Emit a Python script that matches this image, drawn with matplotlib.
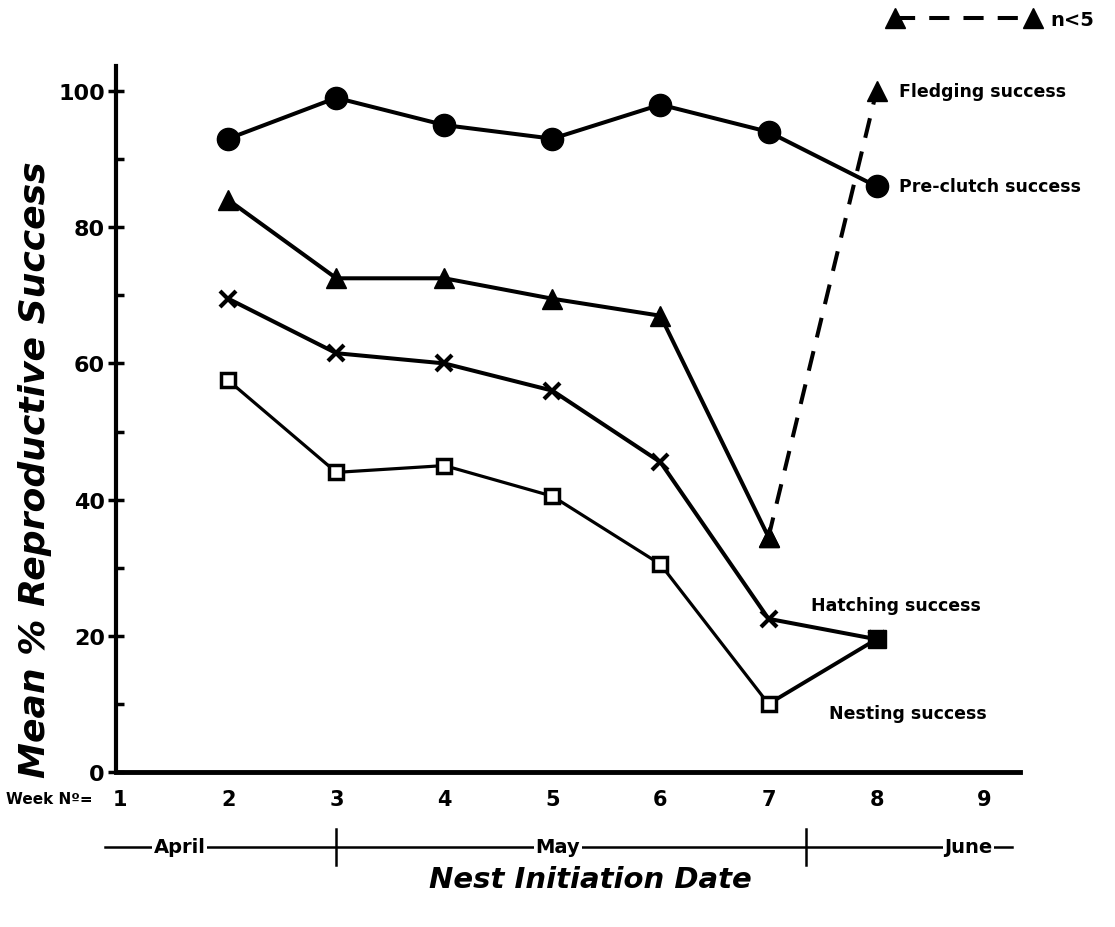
import numpy as np
import matplotlib
matplotlib.use('Agg')
from matplotlib import pyplot as plt
from matplotlib.lines import Line2D

# values (mean % success per week of nest initiation)
week_ticks = [1, 2, 3, 4, 5, 6, 7, 8, 9]
weeks_pre = [2, 3, 4, 5, 6, 7, 8]
pre_clutch = [93, 99, 95, 93, 98, 94, 86]
weeks_main = [2, 3, 4, 5, 6, 7]
fledging = [84, 72.5, 72.5, 69.5, 67, 34.5]
weeks_small_n = [7, 8]
fledging_small_n = [34.5, 100]
hatching = [69.5, 61.5, 60, 56, 45.5, 22.5]
nesting = [57.5, 44, 45, 40.5, 30.5, 10]
week_8 = 8
hatch_nest_week_8 = 19.5

months = ['April', 'May', 'June']
month_centers = [1.55, 5.05, 8.85]
month_breaks = [3, 7.35]

plt.rcParams['font.family'] = ['DejaVu Sans']

fig = plt.figure(figsize=(11.15, 9.28), dpi=100)
ax = fig.add_axes([0.104, 0.167, 0.811, 0.761])

lw = 2.9
# Pre-clutch success
ax.plot(weeks_pre, pre_clutch, color='black', lw=lw, marker='o', ms=16, zorder=3)
# Fledging success (solid) and the n<5 part (dashed)
ax.plot(weeks_main, fledging, color='black', lw=lw, marker='^', ms=15, zorder=3)
ax.plot(weeks_small_n, fledging_small_n, color='black', lw=lw, ls=(0, (5, 3.5)),
        marker='^', ms=15, zorder=3)
# Hatching success
ax.plot(weeks_main + [week_8], hatching + [hatch_nest_week_8], color='black', lw=lw,
        marker='x', ms=11, mew=3, zorder=3)
# Nesting success
ax.plot(weeks_main, nesting, color='black', lw=2.3, marker='s', ms=10,
        mfc='white', mew=2.5, zorder=3)
ax.plot([weeks_main[-1], week_8], [nesting[-1], hatch_nest_week_8], color='black', lw=2.8, zorder=2)
ax.plot([week_8], [hatch_nest_week_8], color='black', marker='s', ms=13, zorder=4)

# series labels
lab_kw = dict(textcoords='offset pixels', fontsize=12.5, fontweight='bold', va='center')
ax.annotate('Fledging success', (week_8, fledging_small_n[-1]), xytext=(22, 0), **lab_kw)
ax.annotate('Pre-clutch success', (week_8, pre_clutch[-1]), xytext=(22, 0), **lab_kw)
ax.annotate('Hatching success', (week_8, hatch_nest_week_8), xytext=(-66, 34), **lab_kw)
ax.annotate('Nesting success', (week_8, hatch_nest_week_8), xytext=(-48, -74), **lab_kw)

# axes look
ax.set_xlim(0.96, 9.33)
ax.set_ylim(0, 103.7)
for s in ['top', 'right']:
    ax.spines[s].set_visible(False)
ax.spines['left'].set_linewidth(3)
ax.spines['bottom'].set_linewidth(3.5)

ax.set_yticks([0, 20, 40, 60, 80, 100])
ax.set_yticks([10, 30, 50, 70, 90], minor=True)
ax.tick_params(axis='y', which='major', direction='inout', length=12, width=2.5,
               labelsize=16, pad=2)
ax.tick_params(axis='y', which='minor', direction='in', length=6, width=2.5)
ax.set_xticks(week_ticks)
ax.set_xticklabels([str(w) for w in week_ticks])
ax.tick_params(axis='x', length=0, labelsize=15, pad=12)
for t in ax.get_xticklabels() + ax.get_yticklabels():
    t.set_fontweight('bold')

fig.text(0.005, 1 - 800 / 928, 'Week Nº=', fontsize=11, fontweight='bold', va='center')

# month row below the week numbers
tr = ax.get_xaxis_transform()
y_m = -0.106
ax.plot([0.86, 9.25], [y_m, y_m], color='black', lw=1.8, transform=tr, clip_on=False)
for b in month_breaks:
    ax.plot([b, b], [y_m - 0.025, y_m + 0.025], color='black', lw=1.8, transform=tr, clip_on=False)
for m, c in zip(months, month_centers):
    ax.text(c, y_m, m, transform=tr, ha='center', va='center', fontsize=14,
            fontweight='bold', clip_on=False,
            bbox=dict(facecolor='white', edgecolor='none', pad=1))

# n<5 key
key = Line2D([], [], color='black', lw=lw, ls=(0, (5, 3.5)), marker='^', ms=15)
fig.legend([key], ['n<5'], numpoints=2, handlelength=7.7, frameon=False,
           prop=dict(size=14, weight='bold'), loc='center right',
           bbox_to_anchor=(0.99, 1 - 20 / 928), handletextpad=0.6, borderpad=0)

fig.text(0.031, 1 - 470 / 928, 'Mean % Reproductive Success', rotation=90,
         fontsize=26, fontweight='bold', fontstyle='italic', ha='center', va='center')
fig.text(590 / 1115, 1 - 880 / 928, 'Nest Initiation Date', fontsize=21,
         fontweight='bold', fontstyle='italic', ha='center', va='center')

fig.savefig('out.png', dpi=100)
